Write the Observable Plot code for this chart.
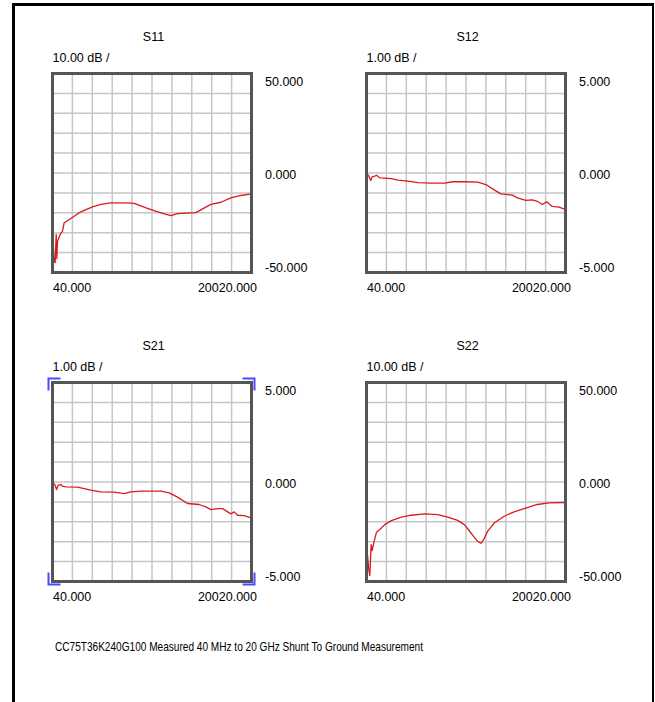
<!DOCTYPE html>
<html>
<head>
<meta charset="utf-8">
<script src="https://cdn.jsdelivr.net/npm/d3@7"></script>
<script src="https://cdn.jsdelivr.net/npm/@observablehq/plot@0.6"></script>
<style>
  body { margin: 0; background: #fff; font-family: "Liberation Sans", Arial, sans-serif; }
  #page { position: relative; width: 655px; height: 702px; overflow: hidden; background: #fff; }
  #border { position: absolute; left: 12px; top: 3px; width: 637px; height: 760px;
            border-left: 3px solid #000; border-top: 3px solid #000; border-right: 2px solid #000; }
  .panel { position: absolute; }
  .panel svg { overflow: visible; }
  #caption { position: absolute; left: 55px; top: 639px; font-size: 13px; line-height: 16px; color: #000;
             white-space: nowrap; transform-origin: 0 0; }
</style>
</head>
<body>
<div id="page">
  <div id="border"></div>
  <div id="p11" class="panel"></div>
  <div id="p12" class="panel"></div>
  <div id="p21" class="panel"></div>
  <div id="p22" class="panel"></div>
  <div id="caption"></div>
</div>
<script>
// ---------- data ----------
const captionText = "CC75T36K240G100 Measured 40 MHz to 20 GHz Shunt To Ground Measurement";
const panelNames = ["S11", "S12", "S21", "S22"];
const scaleLabels = ["10.00 dB /", "1.00 dB /", "1.00 dB /", "10.00 dB /"];

const xDomain = [40, 20020];
const xTickValues = [40, 20020];
const xTickLabels = ["40.000", "20020.000"];
const xGridTicks = [2038, 4036, 6034, 8032, 10030, 12028, 14026, 16024, 18022];

const yTickValuesWide = [50, 0, -50];
const yTickLabelsWide = ["50.000", "0.000", "-50.000"];
const yGridWide = [-40, -30, -20, -10, 0, 10, 20, 30, 40];

const yTickValuesNarrow = [5, 0, -5];
const yTickLabelsNarrow = ["5.000", "0.000", "-5.000"];
const yGridNarrow = [-4, -3, -2, -1, 0, 1, 2, 3, 4];

// S11 (dB)
const freqS11 = [40, 107, 207, 308, 408, 480, 542, 810, 1044, 1211, 1881, 2885, 4056, 4893, 5897, 7570, 8240, 9580, 10918, 11923, 12590, 14430, 14935, 15939, 16943, 17947, 18951, 20020];
const dbS11   = [-30, -34.3, -44.3, -45.1, -30.9, -43, -34.3, -30.9, -29.2, -25, -22.9, -19.5, -17, -15.8, -15, -15, -15.3, -17.8, -20, -21.4, -20.4, -19.9, -18.5, -15.8, -14.7, -12.5, -11.3, -10.5];

// S12 (dB)
const freqS12 = [40, 273, 473, 606, 873, 1039, 1372, 2538, 3204, 4203, 5202, 6534, 7866, 8699, 9864, 11196, 12028, 12861, 13527, 14693, 15193, 16025, 16691, 17191, 17690, 18123, 18690, 19356, 20020];
const dbS12   = [0.01, -0.16, -0.38, -0.19, -0.16, -0.11, -0.24, -0.28, -0.36, -0.41, -0.48, -0.51, -0.51, -0.44, -0.44, -0.46, -0.58, -0.85, -1.05, -1.11, -1.25, -1.38, -1.35, -1.42, -1.58, -1.45, -1.68, -1.72, -1.83];

// S21 (dB)
const freqS21 = [40, 274, 441, 609, 876, 1044, 1378, 2550, 3889, 4893, 6232, 7236, 7906, 8910, 10918, 11755, 12592, 13596, 14768, 15437, 15939, 16609, 17111, 17947, 18282, 18617, 19286, 20020];
const dbS21   = [0.01, -0.13, -0.38, -0.16, -0.13, -0.21, -0.24, -0.26, -0.41, -0.5, -0.51, -0.58, -0.5, -0.46, -0.46, -0.55, -0.76, -1.08, -1.13, -1.25, -1.39, -1.34, -1.34, -1.6, -1.5, -1.67, -1.69, -1.81];

// S22 (dB)
const freqS22 = [140, 273, 373, 506, 606, 806, 1039, 1372, 1871, 2538, 3537, 4536, 5868, 7200, 8199, 9198, 9864, 10363, 10863, 11196, 11529, 11796, 12195, 12861, 13860, 14859, 15858, 17191, 18357, 20020];
const dbS22   = [-36.6, -44.1, -47, -31.5, -34.5, -29.8, -25.3, -23.9, -21.4, -19.4, -17.7, -16.7, -16, -16.4, -17.6, -19.3, -21.4, -24.5, -27.8, -29.8, -30.8, -29, -24.8, -20.6, -17.2, -15, -13.4, -11.3, -10.5, -10.3];

// ---------- drawing ----------
const FONT = "'Liberation Sans', Arial, sans-serif";
const FS = 12.5;

function bracketMark(off, arm) {
  return (index, scales, values, dims) => {
    const x0 = scales.x(xDomain[0]) - off, x1 = scales.x(xDomain[1]) + off;
    const yTop = dims.marginTop - off, yBot = dims.height - dims.marginBottom + off;
    const g = d3.create("svg:g").attr("fill", "none").attr("stroke", "#4a4aff").attr("stroke-width", 2);
    const paths = [
      `M${x0},${yTop + arm}V${yTop}H${x0 + arm}`,
      `M${x1 - arm},${yTop}H${x1}V${yTop + arm}`,
      `M${x0},${yBot - arm}V${yBot}H${x0 + arm}`,
      `M${x1 - arm},${yBot}H${x1}V${yBot - arm}`
    ];
    for (const p of paths) g.append("path").attr("d", p);
    return g.node();
  };
}

function makePanel(el, left, top, i, freq, db, wide, brackets) {
  const data = freq.map((f, k) => ({f, v: db[k]}));
  const yVals = wide ? yTickValuesWide : yTickValuesNarrow;
  const yLabs = wide ? yTickLabelsWide : yTickLabelsNarrow;
  const yGrid = wide ? yGridWide : yGridNarrow;
  const yDom = [yVals[2], yVals[0]];
  const mL = 30, mT = 60, bw = 199, bh = 199, W = 290, H = 300;
  const txt = {fontSize: FS, fontFamily: FONT, fill: "#000"};
  const marks = [
    Plot.gridX(xGridTicks, {stroke: "#c6c6c6", strokeOpacity: 1, strokeWidth: 1.5}),
    Plot.gridY(yGrid, {stroke: "#c6c6c6", strokeOpacity: 1, strokeWidth: 1.5}),
    Plot.line(data, {x: "f", y: "v", stroke: "#d81c1c", strokeWidth: 1.3}),
    Plot.frame({stroke: "#555", strokeWidth: 3}),
    Plot.text([panelNames[i]], {...txt, frameAnchor: "top", lineAnchor: "middle", dy: -37, dx: 1.5, text: d => d}),
    Plot.text([scaleLabels[i]], {...txt, frameAnchor: "top-left", lineAnchor: "middle", dy: -15.5, dx: 0, textAnchor: "start", text: d => d}),
    Plot.text([0], {...txt, y: () => yVals[0], frameAnchor: "right", dx: 13.5, dy: 3.5, textAnchor: "start", lineAnchor: "top", text: () => yLabs[0]}),
    Plot.text([1], {...txt, y: () => yVals[1], frameAnchor: "right", dx: 13.5, dy: 2, textAnchor: "start", lineAnchor: "middle", text: () => yLabs[1]}),
    Plot.text([2], {...txt, y: () => yVals[2], frameAnchor: "right", dx: 13.5, dy: -0.5, textAnchor: "start", lineAnchor: "bottom", text: () => yLabs[2]}),
    Plot.text([0], {...txt, x: () => xTickValues[0], frameAnchor: "bottom", dy: 15, dx: 0.5, textAnchor: "start", lineAnchor: "middle", text: () => xTickLabels[0]}),
    Plot.text([1], {...txt, x: () => xTickValues[1], frameAnchor: "bottom", dy: 15, dx: 5.5, textAnchor: "end", lineAnchor: "middle", text: () => xTickLabels[1]})
  ];
  if (brackets) marks.push(bracketMark(3.5, 12));
  const svg = Plot.plot({
    width: W, height: H,
    marginLeft: mL, marginTop: mT, marginRight: W - mL - bw, marginBottom: H - mT - bh,
    x: {domain: xDomain, axis: null},
    y: {domain: yDom, axis: null},
    style: {background: "transparent", fontFamily: FONT, fontSize: FS + "px", overflow: "visible"},
    marks
  });
  el.style.left = left + "px";
  el.style.top = top + "px";
  el.appendChild(svg);
}

makePanel(document.getElementById("p11"), 21.5, 12.5, 0, freqS11, dbS11, true, false);
makePanel(document.getElementById("p12"), 335.5, 12.5, 1, freqS12, dbS12, false, false);
makePanel(document.getElementById("p21"), 21.5, 321.5, 2, freqS21, dbS21, false, true);
makePanel(document.getElementById("p22"), 335.5, 321.5, 3, freqS22, dbS22, true, false);

const cap = document.getElementById("caption");
cap.textContent = captionText;
const capW = cap.getBoundingClientRect().width;
if (capW > 0) cap.style.transform = `scaleX(${368 / capW})`;
</script>
</body>
</html>
